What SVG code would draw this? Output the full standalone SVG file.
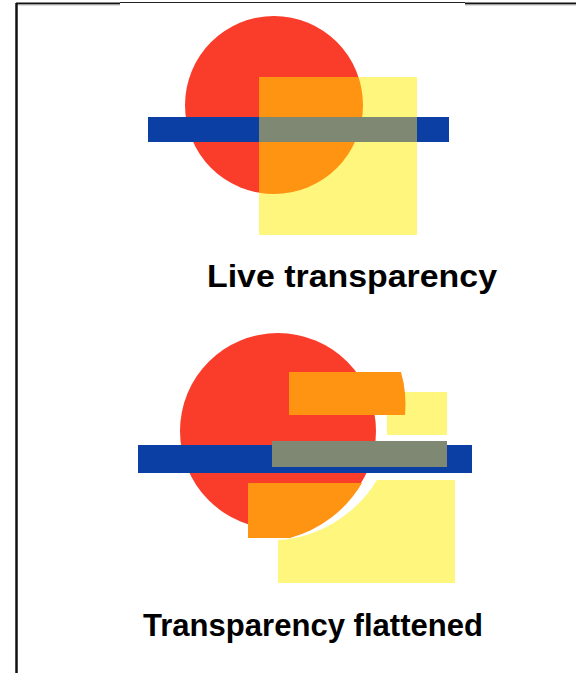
<svg xmlns="http://www.w3.org/2000/svg" width="576" height="673" viewBox="0 0 576 673">
<style>
.red{fill:#FA3D2B}
.orange{fill:#FF9312}
.yellow{fill:#FFF67E}
.blue{fill:#0B3FA4}
.gray{fill:#7F8872}
.label{font-family:"Liberation Sans",Arial,sans-serif;font-weight:bold;font-size:32px;fill:#000}
</style>
<defs>
<clipPath id="sq1"><rect x="259" y="77" width="158" height="158"/></clipPath>
</defs>
<rect x="0" y="0" width="576" height="673" fill="#fff"/>
<g id="frame">
<line x1="16.5" y1="3" x2="16.5" y2="673" stroke="#111" stroke-width="2.5"/>
<line x1="16" y1="3.5" x2="120" y2="3.5" stroke="#111" stroke-width="2"/>
<line x1="120" y1="2.5" x2="465" y2="2.5" stroke="#222" stroke-width="1"/>
<line x1="465" y1="3.5" x2="576" y2="3.5" stroke="#111" stroke-width="2"/>
<line x1="18" y1="5" x2="120" y2="5" stroke="#bbb" stroke-width="1"/>
<line x1="465" y1="5" x2="576" y2="5" stroke="#bbb" stroke-width="1"/>
</g>
<g id="live">
<circle class="red" cx="274" cy="105" r="89"/>
<rect class="yellow" x="259" y="77" width="158" height="158"/>
<circle class="orange" cx="274" cy="105" r="89" clip-path="url(#sq1)"/>
<rect class="blue" x="148" y="117" width="301" height="25"/>
<rect class="gray" x="259" y="117" width="158" height="25"/>
</g>
<g id="flattened">
<path class="yellow" d="M377,480 L455,480 L455,583 L278,583 L278,540 A125,125 0 0 0 377,480 Z"/>
<circle class="red" cx="278" cy="431" r="98"/>
<rect class="yellow" x="387" y="392" width="60" height="43"/>
<path class="orange" d="M289,372 L401,372 Q407,393 405,415 L289,415 Z"/>
<path class="orange" d="M248,483 L362,483 A120,120 0 0 1 290,538 L248,538 Z"/>
<rect class="blue" x="138" y="445" width="334" height="28"/>
<rect class="gray" x="272" y="441" width="175" height="26"/>
</g>
<g id="labels">
<text class="label" x="207" y="287" textLength="290" lengthAdjust="spacingAndGlyphs">Live transparency</text>
<text class="label" x="143" y="636" textLength="340" lengthAdjust="spacingAndGlyphs">Transparency flattened</text>
</g>
</svg>
